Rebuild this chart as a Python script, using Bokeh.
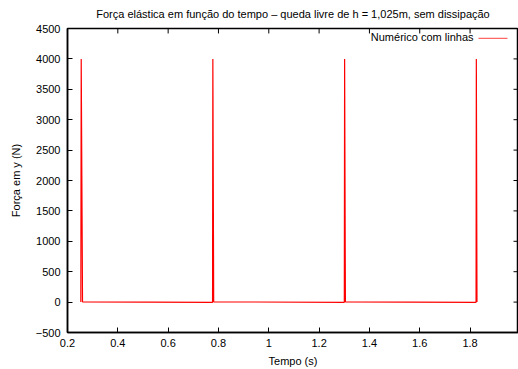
from bokeh.plotting import figure
from bokeh.models import Range1d, FixedTicker, Label
from bokeh.embed import file_html
from bokeh.resources import INLINE

# Força elástica (N) ao longo do tempo (s): picos nos impactos, ~0 em queda livre
tempo = [0.2530, 0.2545, 0.2597,
         0.7765, 0.7777, 0.7810,
         1.3002, 1.3014, 1.3045,
         1.8238, 1.8249, 1.8275]
forca = [0, 4000, 4,
         -4, 4000, 4,
         -4, 4000, 4,
         -4, 4000, 0]

x_ticks = [0.2, 0.4, 0.6, 0.8, 1.0, 1.2, 1.4, 1.6, 1.8]
x_labels = ["0.2", "0.4", "0.6", "0.8", "1", "1.2", "1.4", "1.6", "1.8"]
y_ticks = [-500, 0, 500, 1000, 1500, 2000, 2500, 3000, 3500, 4000, 4500]
y_labels = ["\u2212500", "0", "500", "1000", "1500", "2000", "2500",
            "3000", "3500", "4000", "4500"]

TITLE = "Força elástica em função do tempo \u2013 queda livre de h = 1,025m, sem dissipação"
FONT = "Liberation Sans"
X0, X1 = 0.2, 1.9925
Y0, Y1 = -500, 4500
FRAME_W, FRAME_H = 451, 306


def sx(px):
    """posição horizontal (px a partir da borda esquerda do quadro) em unidades de dados"""
    return X0 + px / FRAME_W * (X1 - X0)


def sy(px):
    """posição vertical (px a partir da base do quadro) em unidades de dados"""
    return Y0 + px / FRAME_H * (Y1 - Y0)


p = figure(width=518, height=369,
           x_range=Range1d(X0, X1), y_range=Range1d(Y0, Y1),
           output_backend="svg", toolbar_location=None,
           min_border_left=67, min_border_right=0,
           min_border_top=28, min_border_bottom=35)

p.title.text = TITLE
p.title.align = "center"
p.title.vertical_align = "top"
p.title.text_font = FONT
p.title.text_font_size = "11px"
p.title.text_font_style = "normal"
p.title.text_color = "#000000"
p.title.standoff = 14

p.xgrid.grid_line_color = None
p.ygrid.grid_line_color = None
p.outline_line_color = "#000000"
p.outline_line_width = 1.5
p.background_fill_color = "white"
p.border_fill_color = "white"

p.xaxis.ticker = FixedTicker(ticks=x_ticks)
p.xaxis.major_label_overrides = {t: l for t, l in zip(x_ticks, x_labels)}
p.yaxis.ticker = FixedTicker(ticks=y_ticks)
p.yaxis.major_label_overrides = {t: l for t, l in zip(y_ticks, y_labels)}

for ax in (p.xaxis, p.yaxis):
    ax.major_tick_in = 5
    ax.major_tick_out = 0
    ax.minor_tick_line_color = None
    ax.axis_line_color = "#000000"
    ax.axis_line_width = 1.5
    ax.major_tick_line_color = "#000000"
    ax.major_tick_line_width = 1
    ax.major_label_text_font = FONT
    ax.major_label_text_font_size = "11px"
    ax.major_label_text_color = "#000000"
    ax.axis_label_text_font = FONT
    ax.axis_label_text_font_size = "11px"
    ax.axis_label_text_font_style = "normal"
    ax.axis_label_text_color = "#000000"

p.xaxis.axis_label = "Tempo (s)"
p.xaxis.major_label_standoff = 6
p.xaxis.axis_label_standoff = 5
p.yaxis.axis_label = "Força em y (N)"
p.yaxis.major_label_standoff = 7
p.yaxis.axis_label_standoff = 11

# marcas espelhadas no topo e à direita
dy = sy(5) - Y0
dx = sx(5) - X0
p.segment(x0=x_ticks, y0=[Y1] * len(x_ticks), x1=x_ticks, y1=[Y1 - dy] * len(x_ticks),
          line_color="#000000", line_width=1)
p.segment(x0=[X1] * len(y_ticks), y0=y_ticks, x1=[X1 - dx] * len(y_ticks), y1=y_ticks,
          line_color="#000000", line_width=1)

p.line(tempo, forca, line_color="#ff0000", line_width=1.2)

# legenda no estilo gnuplot: texto à esquerda, amostra da linha à direita
key_y = FRAME_H - 10
p.add_layout(Label(x=406, y=key_y, x_units="screen", y_units="screen",
                   text="Numérico com linhas", text_align="right",
                   text_baseline="middle", text_font=FONT,
                   text_font_size="11px", text_color="#000000"))
p.segment(x0=[sx(411)], y0=[sy(key_y)], x1=[sx(440)], y1=[sy(key_y)],
          line_color="#ff0000", line_alpha=0.6, line_width=1.2)

open("out.html", "w").write(file_html(p, INLINE))
